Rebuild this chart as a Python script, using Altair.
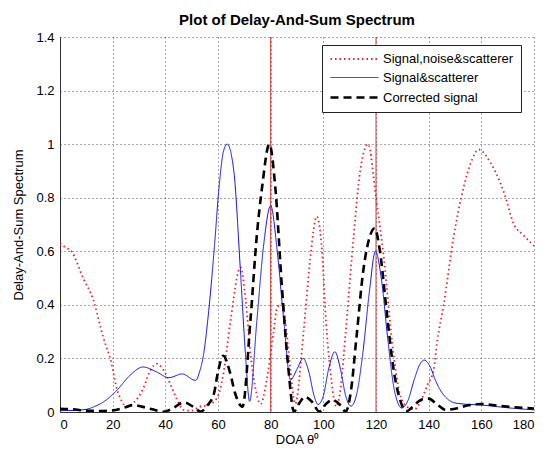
import altair as alt
import pandas as pd

# ---- data ----
series_names = ["Signal,noise&scatterer", "Signal&scatterer", "Corrected signal"]

red_x = [0, 2, 4.3, 8.8, 12.6, 16.4, 19.6, 21.5, 23.5, 25.4, 28, 31.7, 34.3, 36.8, 39.4, 42.5, 44.5, 47, 50,
         53, 56, 59.5, 62, 64.75, 68.5, 70.5, 72.3, 74, 76.2, 78.5, 81, 82.5, 84.4, 86, 87.5, 89.3, 92.5, 95,
         97.5, 99.5, 101, 102.5, 105, 106.3, 108.5, 111.5, 114, 117, 120, 122.8, 126.6, 129, 131.7, 134.5, 137,
         139.5, 141.9, 143.2, 145.7, 149.5, 153.3, 156, 159, 163.5, 168.6, 172.4, 176, 180]
red_y = [0.63, 0.615, 0.6, 0.5, 0.42, 0.28, 0.18, 0.09, 0.04, 0.02, 0.035, 0.09, 0.155, 0.18, 0.155, 0.09, 0.045,
         0.008, 0.005, 0.02, 0.025, 0.05, 0.14, 0.34, 0.54, 0.42, 0.22, 0.1, 0.03, 0.12, 0.29, 0.39, 0.405, 0.3,
         0.16, 0.03, 0.3, 0.57, 0.73, 0.6, 0.34, 0.17, 0.02, 0.07, 0.3, 0.655, 0.9, 1.0, 0.8, 0.59, 0.22, 0.07,
         0.02, 0.01, 0.04, 0.1, 0.157, 0.26, 0.4, 0.655, 0.84, 0.93, 0.98, 0.93, 0.82, 0.7, 0.66, 0.62]

blue_x = [0, 5, 10, 13, 16.4, 21.5, 26.6, 31.5, 36.8, 41.3, 46.4, 51.5, 53, 54.6, 56.5, 58.5, 60.5, 62, 63.5, 66,
          68.5, 70.4, 72, 74.75, 77.3, 80, 82.5, 85, 87.5, 90, 92.3, 94.5, 96.5, 98, 100, 102, 104.4, 106.5,
          108.5, 110.5, 112.5, 115, 117.5, 119.8, 122, 124.5, 127, 129.8, 132, 134.5, 136.5, 138.3, 140.5, 142.5,
          144.4, 147, 149.5, 153, 160, 166, 172, 180]
blue_y = [0.006, 0.006, 0.01, 0.02, 0.037, 0.08, 0.137, 0.168, 0.149, 0.128, 0.142, 0.118, 0.15, 0.22, 0.38,
          0.6, 0.85, 0.97, 1.0, 0.9, 0.53, 0.22, 0.04, 0.34, 0.62, 0.77, 0.6, 0.34, 0.12, 0.16, 0.2, 0.15, 0.06,
          0.028, 0.06, 0.16, 0.225, 0.16, 0.06, 0.022, 0.06, 0.22, 0.45, 0.6, 0.5, 0.27, 0.08, 0.015, 0.04, 0.12,
          0.175, 0.194, 0.17, 0.12, 0.082, 0.05, 0.035, 0.03, 0.026, 0.02, 0.014, 0.008]

black_x = [0, 5, 10, 15, 20, 24, 27.9, 31, 35, 39.4, 43, 47, 50.5, 53.4, 56, 58.5, 60, 62, 64.5, 66.5, 69.3,
           72.3, 74.75, 76.75, 79.5, 81.75, 84.25, 86.75, 88.8, 91, 93, 95.5, 98.5, 101, 103.5, 106, 108.5,
           110.5, 112.5, 115.2, 117.5, 119.5, 121.5, 124, 126.5, 129, 131.5, 134, 137, 140, 143, 146.5, 150, 155,
           160, 165, 172, 180]
black_y = [0.012, 0.01, 0.005, 0.004, 0.006, 0.015, 0.026, 0.02, 0.01, 0.001, 0.015, 0.036, 0.02, 0.002, 0.025,
           0.07, 0.15, 0.21, 0.15, 0.07, 0.02, 0.34, 0.66, 0.84, 1.0, 0.84, 0.47, 0.16, 0.002, 0.035, 0.057,
           0.04, 0.002, 0.03, 0.045, 0.03, 0.002, 0.08, 0.27, 0.53, 0.65, 0.686, 0.6, 0.38, 0.17, 0.05, 0.003,
           0.02, 0.045, 0.05, 0.03, 0.008, 0.012, 0.025, 0.03, 0.025, 0.018, 0.013]

marker_angles = [80, 120]

x_ticks = [0, 20, 40, 60, 80, 100, 120, 140, 160, 180]
y_ticks = [0, 0.2, 0.4, 0.6, 0.8, 1.0, 1.2, 1.4]

# ---- build table ----
rows = []
for name, xs, ys in zip(series_names, [red_x, blue_x, black_x], [red_y, blue_y, black_y]):
    for xv, yv in zip(xs, ys):
        rows.append({"doa": xv, "val": yv, "series": name})
df = pd.DataFrame(rows)
rules_df = pd.DataFrame({"doa": marker_angles})

FONT = "Liberation Sans"

x_scale = alt.Scale(domain=[0, 180], nice=False, zero=False)
y_scale = alt.Scale(domain=[0, 1.4], nice=False)

lines = alt.Chart(df).mark_line(interpolate="monotone", clip=True).encode(
    x=alt.X("doa:Q", scale=x_scale,
            axis=alt.Axis(values=x_ticks, title="DOA θ⁰", format="d", labelOverlap=False)),
    y=alt.Y("val:Q", scale=y_scale,
            axis=alt.Axis(values=y_ticks, title="Delay-And-Sum Spectrum", format="~g", labelOverlap=False)),
    color=alt.Color("series:N",
                    scale=alt.Scale(domain=series_names, range=["#e8202a", "#1010e0", "#000000"]),
                    legend=alt.Legend(title=None, orient="none", legendX=262, legendY=8,
                                      symbolType="M-1,0H7", symbolSize=144,
                                      labelFont=FONT, labelFontSize=13, labelColor="#000",
                                      labelOffset=39, rowPadding=5, padding=7,
                                      strokeColor="#222", fillColor="#ffffff", cornerRadius=0)),
    strokeDash=alt.StrokeDash("series:N",
                              scale=alt.Scale(domain=series_names, range=[[1.5, 3], [1, 0], [8, 5]]),
                              legend=alt.Legend(title=None)),
    strokeWidth=alt.StrokeWidth("series:N",
                                scale=alt.Scale(type="ordinal", domain=series_names, range=[1.8, 1.0, 2.6]),
                                legend=alt.Legend(title=None)),
    order=alt.Order("series:N"),
)

rules = alt.Chart(rules_df).mark_rule(color="#d03838", strokeWidth=1).encode(
    x=alt.X("doa:Q", scale=x_scale)
)

chart = alt.layer(rules, lines).properties(
    width=474,
    height=375,
    title=alt.Title("Plot of Delay-And-Sum Spectrum", font=FONT, fontSize=15, fontWeight="bold",
                    color="#000", anchor="middle", offset=3),
    autosize=alt.AutoSizeParams(type="none"),
    padding={"left": 52, "top": 29, "right": 9, "bottom": 33},
).configure_view(
    stroke=None
).configure_axis(
    labelFont=FONT, labelFontSize=13, labelColor="#000",
    titleFont=FONT, titleFontSize=13, titleFontWeight="normal", titleColor="#000",
    domainColor="#333", domainWidth=1,
    ticks=False, labelPadding=6,
    grid=True, gridColor="#000", gridOpacity=0.7, gridDash=[1, 3], gridWidth=1,
).configure_axisX(
    titlePadding=2
).configure_axisY(
    titlePadding=10
)

chart.save("out.html", embed_options={"renderer": "svg", "actions": False})
